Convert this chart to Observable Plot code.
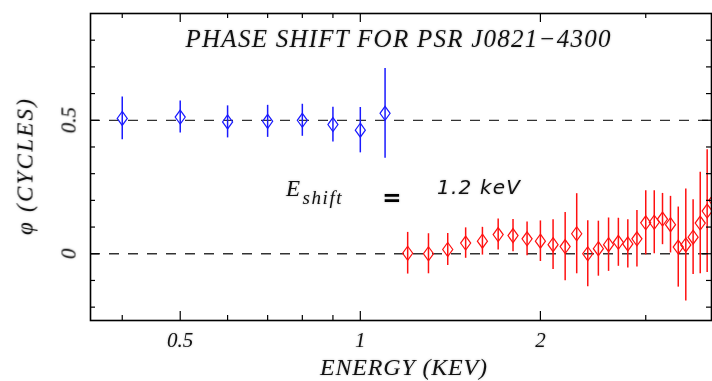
<!DOCTYPE html>
<html>
<head>
<meta charset="utf-8">
<script src="https://cdn.jsdelivr.net/npm/d3@7"></script>
<script src="https://cdn.jsdelivr.net/npm/@observablehq/plot@0.6"></script>
<style>
  html, body { margin: 0; padding: 0; background: #fff; }
  svg text { filter: drop-shadow(0 0 1px rgba(0,0,0,0.25)); }
</style>
</head>
<body>
<div id="chart"></div>
<script>
// ---- data ----
const titleText = "PHASE SHIFT FOR PSR J0821\u22124300";
const xLabel = "ENERGY (KEV)";
const yLabel = "\u03c6 (CYCLES)";

const blueE   = [0.4, 0.5, 0.6, 0.7, 0.8, 0.9, 1.0, 1.1];
const bluePhi = [0.507, 0.512, 0.494, 0.496, 0.500, 0.484, 0.463, 0.526];
const blueErr = [0.080, 0.060, 0.060, 0.060, 0.060, 0.065, 0.085, 0.168];

const redE   = [1.2, 1.3, 1.4, 1.5, 1.6, 1.7, 1.8, 1.9, 2.0, 2.1, 2.2, 2.3, 2.4, 2.5,
                2.6, 2.7, 2.8, 2.9, 3.0, 3.1, 3.2, 3.3, 3.4, 3.5, 3.6, 3.7, 3.8, 3.9];
const redPhi = [0.002, 0.000, 0.016, 0.040, 0.047, 0.072, 0.068, 0.056, 0.047, 0.034, 0.027, 0.075, 0.000, 0.019,
                0.034, 0.043, 0.037, 0.056, 0.116, 0.118, 0.130, 0.109, 0.025, 0.033, 0.062, 0.115, 0.160, 0.200];
const redErr = [0.078, 0.075, 0.060, 0.057, 0.052, 0.058, 0.060, 0.063, 0.076, 0.093, 0.128, 0.150, 0.124, 0.103,
                0.100, 0.090, 0.090, 0.106, 0.120, 0.118, 0.096, 0.106, 0.150, 0.210, 0.140, 0.190, 0.230, 0.200];

const refLevels = [0, 0.5];
const xMajorTicks = [0.5, 1, 2];
const xMajorLabels = ["0.5", "1", "2"];
const xMinorTicks = [0.4, 0.6, 0.7, 0.8, 0.9, 3];
const yMajorTicks = [0, 0.5];
const yMajorLabels = ["0", "0.5"];
const yMinorTicks = [-0.2, -0.1, 0.1, 0.2, 0.3, 0.4, 0.6, 0.7, 0.8];

const annE = "E", annSub = "shift", annEq = "=", annVal = "1.2 keV";

// ---- build ----
const blue = blueE.map((e, i) => ({E: e, phi: bluePhi[i], err: blueErr[i]}));
const red = redE.map((e, i) => ({E: e, phi: redPhi[i], err: redErr[i]}));

const W = 712, H = 381, mL = 90, mR = 1, mT = 13, mB = 61;
const fw = W - mL - mR, fh = H - mT - mB;

const diamond = {
  draw(ctx, size) {
    const r = Math.sqrt(size / Math.PI);
    const w = r * 0.72;
    ctx.moveTo(0, -r); ctx.lineTo(w, 0); ctx.lineTo(0, r); ctx.lineTo(-w, 0); ctx.closePath();
  }
};

const BLUE = "#1a1aff", RED = "#ff1010";
const serif = "'Liberation Serif', 'DejaVu Serif', serif";
const sans = "'DejaVu Sans', sans-serif";
const C = {textAnchor: "middle", lineAnchor: "middle", fill: "#111"};

const chart = Plot.plot({
  width: W, height: H,
  marginLeft: mL, marginRight: mR, marginTop: mT, marginBottom: mB,
  x: {type: "log", domain: [0.354, 3.864], axis: null},
  y: {domain: [-0.25, 0.9], axis: null},
  style: {fontFamily: serif, fontStyle: "italic", background: "#fff", color: "#111"},
  marks: [
    Plot.ruleY(refLevels, {stroke: "#333", strokeWidth: 1.3, strokeDasharray: "10,9"}),
    Plot.ruleX(blue, {x: "E", y1: d => d.phi - d.err, y2: d => d.phi + d.err, stroke: BLUE, strokeWidth: 1.5}),
    Plot.dot(blue, {x: "E", y: "phi", r: 7, symbol: diamond, stroke: BLUE, strokeWidth: 1.2, fill: "none"}),
    Plot.ruleX(red, {x: "E", y1: d => d.phi - d.err, y2: d => d.phi + d.err, stroke: RED, strokeWidth: 1.5, clip: true}),
    Plot.dot(red, {x: "E", y: "phi", r: 7, symbol: diamond, stroke: RED, strokeWidth: 1.2, fill: "none", clip: true}),
    // ticks (inward)
    Plot.tickX(xMajorTicks, {x: d => d, insetTop: fh - 9, stroke: "#000", strokeWidth: 1.2}),
    Plot.tickX(xMajorTicks, {x: d => d, insetBottom: fh - 9, stroke: "#000", strokeWidth: 1.2}),
    Plot.tickX(xMinorTicks, {x: d => d, insetTop: fh - 5, stroke: "#000", strokeWidth: 1.2}),
    Plot.tickX(xMinorTicks, {x: d => d, insetBottom: fh - 5, stroke: "#000", strokeWidth: 1.2}),
    Plot.tickY(yMajorTicks, {y: d => d, insetRight: fw - 9, stroke: "#000", strokeWidth: 1.2}),
    Plot.tickY(yMajorTicks, {y: d => d, insetLeft: fw - 9, stroke: "#000", strokeWidth: 1.2}),
    Plot.tickY(yMinorTicks, {y: d => d, insetRight: fw - 5, stroke: "#000", strokeWidth: 1.2}),
    Plot.tickY(yMinorTicks, {y: d => d, insetLeft: fw - 5, stroke: "#000", strokeWidth: 1.2}),
    Plot.frame({stroke: "#000", strokeWidth: 1.6}),
    // tick labels
    Plot.text(xMajorTicks, {...C, x: d => d, text: (d, i) => xMajorLabels[i], frameAnchor: "bottom", dy: 20, fontSize: 21}),
    Plot.text(yMajorTicks, {...C, y: d => d, text: (d, i) => yMajorLabels[i], frameAnchor: "left", dx: -22, rotate: -90, fontSize: 21}),
    // axis titles
    Plot.text([xLabel], {...C, text: d => d, frameAnchor: "bottom", dx: 2.5, dy: 47, fontSize: 24}),
    Plot.text([yLabel], {...C, text: d => d, frameAnchor: "left", dx: -65, dy: 0, rotate: -90, fontSize: 23}),
    // title
    Plot.text([titleText], {...C, text: d => d, frameAnchor: "top", dx: -3, dy: 25, fontSize: 25}),
    // annotation
    Plot.text([annE], {...C, text: d => d, frameAnchor: "top-left", dx: 202.5, dy: 175, fontSize: 23}),
    Plot.text([annSub], {...C, text: d => d, frameAnchor: "top-left", dx: 231.5, dy: 184, fontSize: 19}),
    Plot.text([annEq], {...C, text: d => d, frameAnchor: "top-left", dx: 301.5, dy: 184, fontSize: 23, fontWeight: "bold", fontStyle: "normal", fontFamily: sans, fill: "#000"}),
    Plot.text([annVal], {...C, text: d => d, frameAnchor: "top-left", dx: 388, dy: 174, fontSize: 20, fontFamily: sans})
  ]
});

document.getElementById("chart").appendChild(chart);

const fitLengths = new Map([[titleText, 425], [xLabel, 167], [yLabel, 136], [annVal, 83], [annSub, 39]]);
chart.querySelectorAll("text").forEach(t => {
  const len = fitLengths.get(t.textContent);
  if (len) {
    t.setAttribute("textLength", len);
    t.setAttribute("lengthAdjust", "spacing");
  }
});
</script>
</body>
</html>
